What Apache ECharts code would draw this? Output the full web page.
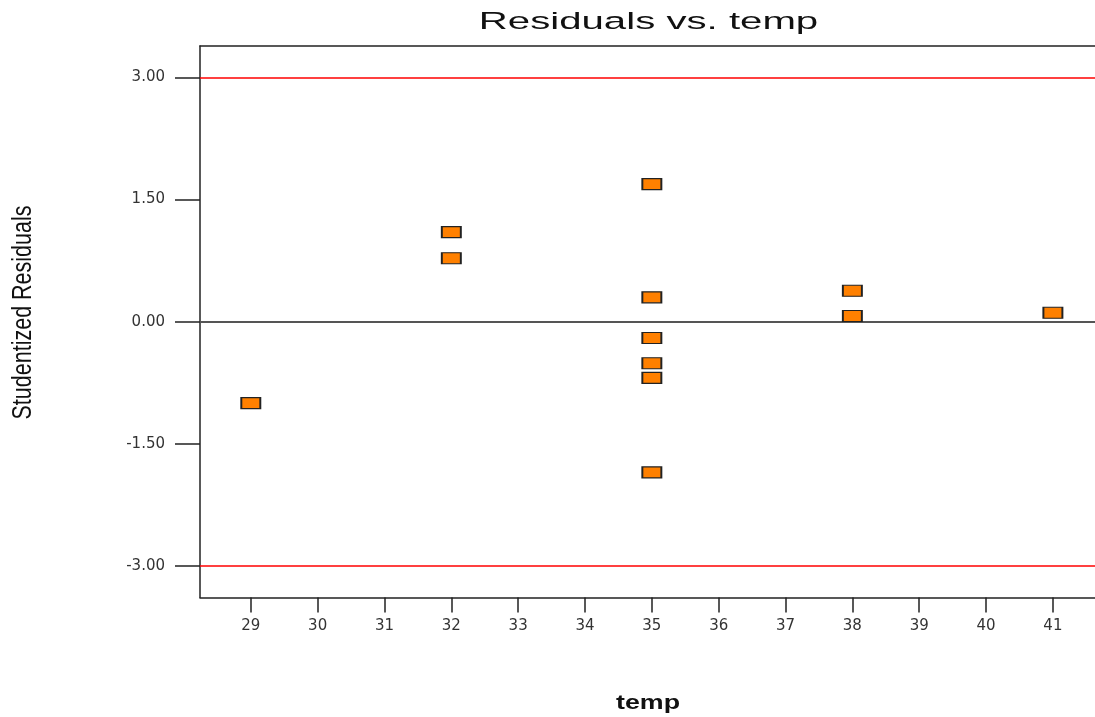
<!DOCTYPE html>
<html>
<head>
<meta charset="utf-8">
<script src="https://cdn.jsdelivr.net/npm/echarts@6/dist/echarts.min.js"></script>
<style>
  html, body { margin: 0; padding: 0; background: #fff; }
  #main { width: 1095px; height: 717px; }
</style>
</head>
<body>
<div id="main"></div>
<script>
// data
const temp = [29, 32, 32, 35, 35, 35, 35, 35, 35, 38, 38, 41];
const residuals = [-1.00, 1.10, 0.78, 1.69, 0.30, -0.20, -0.51, -0.69, -1.85, 0.38, 0.07, 0.11];
const yTicks = [-3, -1.5, 0, 1.5, 3];
const xTicks = [29, 30, 31, 32, 33, 34, 35, 36, 37, 38, 39, 40, 41];
const limits = [3, -3];

const points = temp.map((t, i) => [t, residuals[i]]);

// the original picture is stretched sideways, so the big texts get a scale
const chart = echarts.init(document.getElementById("main"));
chart.setOption({
  animation: false,
  graphic: [
    {
      // title
      type: "text",
      x: 648.5,
      y: 22.5,
      scaleX: 1.64,
      style: {
        text: "Residuals vs. temp",
        x: 0, y: 0,
        align: "center",
        verticalAlign: "middle",
        font: "24.5px 'Liberation Sans'",
        fill: "#111"
      }
    },
    {
      // y axis name
      type: "text",
      x: 23,
      y: 312.5,
      rotation: Math.PI / 2,
      scaleY: 1.28,
      style: {
        text: "Studentized Residuals",
        x: 0, y: 0,
        align: "center",
        verticalAlign: "middle",
        font: "21.5px 'Liberation Sans'",
        fill: "#111"
      }
    },
    {
      // x axis name
      type: "text",
      x: 648,
      y: 703,
      scaleX: 1.34,
      style: {
        text: "temp",
        x: 0, y: 0,
        align: "center",
        verticalAlign: "middle",
        font: "bold 20px 'Liberation Sans'",
        fill: "#111"
      }
    }
  ],
  grid: { left: 200, top: 46, right: 0, bottom: 119.5, outerBoundsMode: "none", containLabel: false },
  xAxis: [
    {
      type: "value",
      min: 28.24,
      max: 41.63,
      splitLine: { show: false },
      axisLine: { onZero: false, lineStyle: { color: "#222", width: 1.5 } },
      axisTick: { customValues: xTicks, length: 15, lineStyle: { color: "#222", width: 1.5 } },
      axisLabel: {
        customValues: xTicks,
        margin: 21,
        fontFamily: "DejaVu Sans",
        fontSize: 15,
        color: "#333"
      }
    },
    {
      type: "value",
      position: "top",
      min: 28.24,
      max: 41.63,
      splitLine: { show: false },
      axisLine: { show: true, onZero: false, lineStyle: { color: "#222", width: 1.5 } },
      axisTick: { show: false },
      axisLabel: { show: false }
    }
  ],
  yAxis: {
    type: "value",
    min: -3.386,
    max: 3.386,
    splitLine: { show: false },
    axisLine: { onZero: false, lineStyle: { color: "#222", width: 1.5 } },
    axisTick: { customValues: yTicks, length: 25, lineStyle: { color: "#222", width: 1.5 } },
    axisLabel: {
      customValues: yTicks,
      margin: 35,
      fontFamily: "DejaVu Sans",
      fontSize: 15,
      color: "#333",
      formatter: v => v.toFixed(2)
    }
  },
  series: [
    {
      type: "scatter",
      data: points,
      symbol: "rect",
      symbolSize: [19, 11],
      itemStyle: { color: "#FF8000", borderColor: "#222", borderWidth: 1.5, opacity: 1 },
      z: 5,
      markLine: {
        silent: true,
        symbol: "none",
        label: { show: false },
        data: [
          ...limits.map(v => ({ yAxis: v, lineStyle: { color: "#FF0000", width: 1.5, type: "solid" } })),
          { yAxis: 0, lineStyle: { color: "#555", width: 2, type: "solid" } }
        ]
      }
    }
  ]
});
</script>
</body>
</html>
